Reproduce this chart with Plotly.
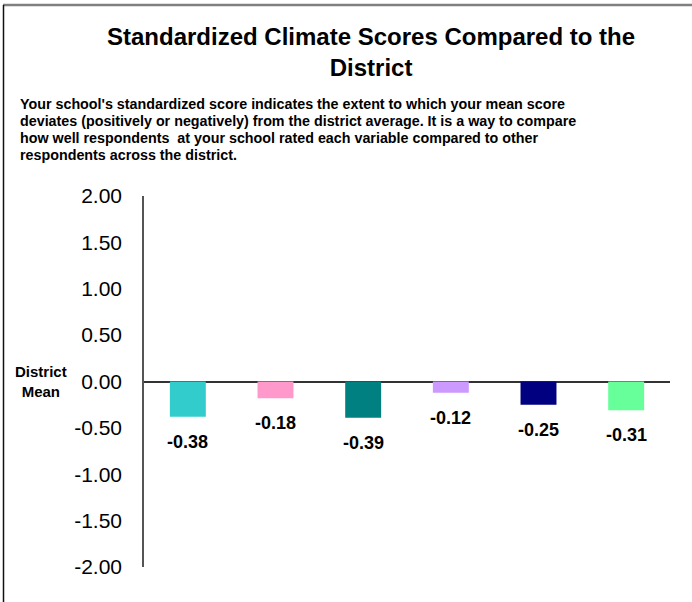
import plotly.graph_objects as go

# ---------------------------------------------------------------------------
# Data
# ---------------------------------------------------------------------------
categories = ["A", "B", "C", "D", "E", "F"]
scores = [-0.38, -0.18, -0.39, -0.12, -0.25, -0.31]
bar_colors = ["#33CCCC", "#FF99CC", "#008080", "#CC99FF", "#000080", "#66FF99"]

tick_vals = [2.0, 1.5, 1.0, 0.5, 0.0, -0.5, -1.0, -1.5, -2.0]
tick_text = ["2.00", "1.50", "1.00", "0.50", "0.00", "-0.50", "-1.00", "-1.50", "-2.00"]

title_text = "<b>Standardized Climate Scores Compared to the<br>District</b>"
subtitle_lines = [
    "Your school's standardized score indicates the extent to which your mean score",
    "deviates (positively or negatively) from the district average. It is a way to compare",
    "how well respondents  at your school rated each variable compared to other",
    "respondents across the district.",
]

FONT = "Liberation Sans, Arial, sans-serif"
W, H = 692, 602
L, R, T, B = 144, 22, 196, 35


def px_x(px):
    """Convert a page x pixel to paper coordinates."""
    return (px - L) / (W - L - R)


def px_y(py):
    """Convert a page y pixel to paper coordinates."""
    return (H - B - py) / (H - T - B)


fig = go.Figure()
fig.add_trace(go.Bar(
    x=categories, y=scores,
    marker=dict(color=bar_colors, line=dict(width=0)),
    width=0.41,
    hoverinfo="y",
))

annotations = []
# value labels under each bar
for cat, val in zip(categories, scores):
    annotations.append(dict(
        x=cat, y=val, xref="x", yref="y",
        text=f"<b>{val:.2f}</b>",
        showarrow=False, yanchor="middle", yshift=-25,
        font=dict(family=FONT, size=18, color="black"),
    ))

# "District Mean" beside the zero line
annotations.append(dict(
    x=px_x(41), y=0, xref="paper", yref="y",
    text="<b>District<br>Mean</b>",
    showarrow=False, xanchor="center", yanchor="middle",
    font=dict(family=FONT, size=15, color="black"),
))

# title
annotations.append(dict(
    x=px_x(371), y=px_y(52), xref="paper", yref="paper",
    text=title_text, showarrow=False, xanchor="center", yanchor="middle",
    font=dict(family=FONT, size=24, color="black"),
))

# subtitle, one line at a time
for i, line in enumerate(subtitle_lines):
    annotations.append(dict(
        x=px_x(18), y=px_y(104 + 17 * i), xref="paper", yref="paper",
        text=f"<b>{line}</b>", showarrow=False, xanchor="left", yanchor="middle",
        font=dict(family=FONT, size=14.3, color="black"),
    ))

shapes = [
    # outer border: top (gray) and left (dark)
    dict(type="line", xref="paper", yref="paper",
         x0=px_x(3), x1=px_x(700), y0=px_y(5), y1=px_y(5),
         line=dict(color="#808080", width=2.5)),
    dict(type="line", xref="paper", yref="paper",
         x0=px_x(3.5), x1=px_x(3.5), y0=px_y(5), y1=px_y(610),
         line=dict(color="#111111", width=1.5)),
]

fig.update_layout(
    width=W, height=H,
    margin=dict(l=L, r=R, t=T, b=B),
    paper_bgcolor="white", plot_bgcolor="white",
    showlegend=False,
    font=dict(family=FONT, color="black"),
    annotations=annotations,
    shapes=shapes,
)
fig.update_xaxes(
    showticklabels=False, showgrid=False, showline=False, zeroline=False,
    ticks="", range=[-0.5, 5.5],
)
fig.update_yaxes(
    range=[-2, 2], tickvals=tick_vals, ticktext=tick_text,
    showgrid=False, ticks="",
    showline=True, linecolor="#555555", linewidth=1.5,
    zeroline=True, zerolinecolor="#333333", zerolinewidth=1.5,
    ticklabelstandoff=16,
    tickfont=dict(family=FONT, size=21, color="black"),
)

# the page body has a default 8px margin; drop it so the figure sits at 0,0
fig.write_html(
    "out.html",
    config={"displayModeBar": False},
    post_script="document.body.style.margin='0';",
)
